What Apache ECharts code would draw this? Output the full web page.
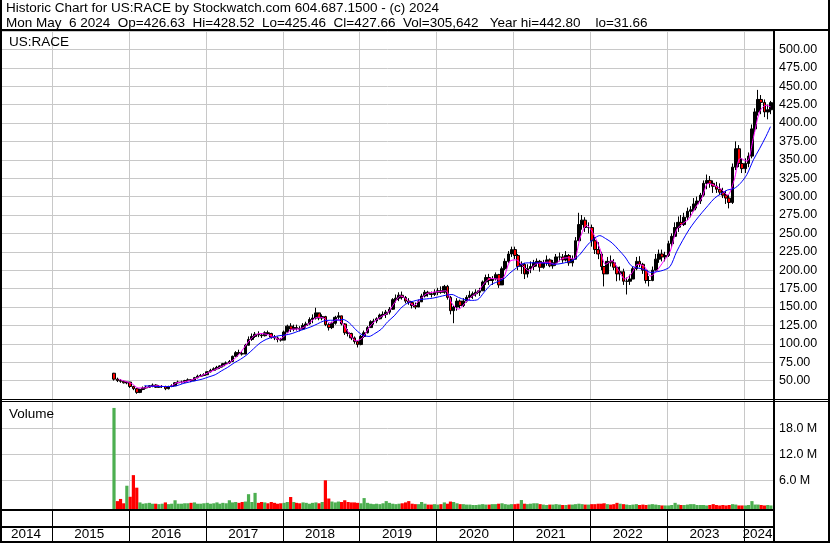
<!DOCTYPE html>
<html>
<head>
<meta charset="utf-8">
<script src="https://cdn.jsdelivr.net/npm/echarts@6/dist/echarts.min.js"></script>
<style>
html,body{margin:0;padding:0;background:#fff;}
#chart{width:830px;height:543px;}
</style>
</head>
<body>
<div id="chart"></div>
<script>
// ---------- texts ----------
const HEADER_LINE_1 = 'Historic Chart for US:RACE by Stockwatch.com 604.687.1500 - (c) 2024';
const HEADER_LINE_2 = 'Mon May  6 2024  Op=426.63  Hi=428.52  Lo=425.46  Cl=427.66  Vol=305,642   Year hi=442.80    lo=31.66';
const SYMBOL_LABEL = 'US:RACE';
const VOLUME_LABEL = 'Volume';

// ---------- axes ----------
const AXIS_START = Date.UTC(2014, 4, 9);
const AXIS_END = Date.UTC(2024, 4, 18);
const YEAR_LABELS = [2014, 2015, 2016, 2017, 2018, 2019, 2020, 2021, 2022, 2023, 2024];
const YEAR_BOUNDARIES = [2015, 2016, 2017, 2018, 2019, 2020, 2021, 2022, 2023, 2024];
const PRICE_MIN = 25, PRICE_MAX = 525, PRICE_STEP = 25;
const PRICE_LABEL_MIN = 50, PRICE_LABEL_MAX = 500;
const VOLUME_TICKS = [6, 12, 18];          // millions
const VOLUME_MIN = -0.62, VOLUME_MAX = 24.07;

// ---------- half-month price bars (first = Oct 2015 2nd half, last = May 2024 1st half) ----------
const IPO_OPEN = 60;
const PRICE_LOW = [
  50, 48, 47, 46, 45,
  40, 37, 32, 33, 37, 39, 40, 41, 40, 40, 40, 37, 38, 41, 44, 46, 46, 47, 49, 48, 50, 53, 55, 56,
  58, 61, 63, 65, 66, 68, 71, 73, 76, 82, 85, 84, 86, 98, 104, 108, 109, 108, 110, 112, 107, 105, 102, 103,
  105, 115, 116, 117, 118, 117, 119, 122, 126, 128, 133, 132, 132, 124, 118, 120, 126, 133, 125, 112, 110, 105, 100, 95,
  98, 108, 114, 122, 126, 128, 133, 136, 135, 140, 146, 156, 158, 160, 155, 153, 148, 147, 150, 158, 163, 164, 163, 165,
  166, 168, 168, 160, 140, 128, 145, 148, 150, 156, 160, 161, 164, 165, 172, 180, 180, 180, 186, 176, 184, 200, 210, 218,
  215, 200, 195, 188, 190, 196, 200, 205, 198, 202, 206, 204, 202, 206, 212, 210, 212, 206, 205, 215, 240, 255, 252, 250,
  232, 222, 215, 200, 178, 195, 205, 200, 185, 186, 180, 167, 180, 188, 200, 204, 195, 182, 178, 185, 200, 210, 212, 212,
  218, 232, 245, 252, 258, 260, 268, 272, 280, 284, 290, 300, 310, 312, 305, 305, 302, 298, 290, 284, 290, 336, 340, 332,
  332, 340, 352, 388, 410, 412, 408, 405, 412
];
const PRICE_HIGH = [
  60.5, 54, 52, 50, 49,
  48, 43, 40, 39, 42, 43, 44, 46, 45, 44, 44, 43, 43, 45, 48, 50, 50, 51, 53, 52, 55, 58, 59, 60,
  63, 66, 68, 70, 71, 74, 76, 78, 84, 90, 92, 90, 100, 110, 114, 116, 117, 114, 117, 118, 115, 112, 110, 108,
  118, 126, 128, 126, 126, 124, 128, 130, 136, 140, 149, 140, 140, 138, 128, 130, 138, 143, 138, 128, 120, 115, 110, 104,
  112, 118, 124, 132, 134, 136, 141, 144, 146, 150, 162, 167, 170, 171, 165, 162, 158, 156, 160, 168, 173, 172, 171, 174,
  176, 178, 180, 180, 165, 152, 162, 160, 162, 166, 172, 171, 174, 176, 186, 194, 195, 192, 197, 195, 205, 216, 226, 232,
  232, 222, 212, 210, 208, 212, 214, 216, 214, 214, 220, 216, 214, 222, 224, 222, 226, 222, 220, 245, 278, 275, 272, 265,
  262, 245, 238, 225, 205, 218, 220, 215, 206, 205, 202, 190, 194, 205, 218, 219, 210, 200, 192, 205, 222, 228, 228, 225,
  240, 250, 265, 273, 275, 278, 285, 287, 298, 300, 305, 322, 330, 328, 322, 320, 318, 312, 308, 302, 345, 375, 370, 352,
  352, 360, 398, 420, 445, 438, 432, 425, 430
];
const PRICE_CLOSE = [
  52, 50, 49, 47, 48,
  42, 39, 34, 38, 40, 41, 43, 44, 41, 42, 42, 39, 42, 43, 47, 48, 48, 50, 51, 50, 54, 56, 57, 58,
  62, 64, 66, 68, 70, 73, 74, 76, 83, 88, 87, 86, 98, 106, 110, 113, 112, 111, 115, 114, 109, 108, 106, 105,
  116, 124, 120, 122, 121, 120, 125, 127, 133, 135, 142, 135, 137, 126, 122, 128, 136, 138, 127, 115, 114, 108, 103, 99,
  110, 115, 122, 130, 131, 134, 139, 140, 143, 147, 160, 162, 166, 163, 158, 156, 152, 150, 157, 165, 170, 168, 167, 170,
  172, 170, 178, 163, 145, 150, 158, 152, 158, 163, 166, 168, 170, 172, 184, 190, 186, 188, 194, 180, 202, 212, 222, 228,
  220, 205, 208, 195, 202, 205, 210, 212, 204, 210, 214, 206, 210, 218, 218, 214, 220, 210, 215, 240, 262, 268, 258, 258,
  240, 228, 222, 205, 195, 212, 210, 204, 195, 198, 185, 185, 188, 202, 212, 208, 200, 186, 186, 200, 215, 222, 218, 220,
  236, 246, 258, 265, 262, 272, 280, 282, 290, 294, 302, 318, 322, 318, 314, 310, 306, 302, 298, 292, 340, 365, 345, 338,
  345, 355, 392, 415, 432, 428, 415, 418, 427.66
];
// peak daily volume in each half-month, millions
const VOLUME_PEAK = [
  22.7, 1.2, 1.7, 0.7, 4.75,
  2.2, 7.2, 4.3, 0.9, 0.6, 0.7, 0.8, 0.6, 0.6, 0.5, 0.6, 0.9, 0.5, 0.6, 1.4, 0.6, 0.6, 0.7, 0.7, 0.8, 0.9, 0.6, 0.6, 0.7,
  0.8, 0.6, 0.7, 0.9, 0.6, 0.8, 0.7, 1.4, 0.9, 1.0, 0.8, 1.0, 1.1, 2.8, 1.0, 3.1, 0.8, 1.0, 0.9, 0.7, 1.0, 0.8, 0.6, 0.7,
  0.8, 1.0, 2.15, 1.0, 0.8, 0.7, 0.9, 0.8, 0.6, 0.8, 0.9, 0.7, 1.0, 6.0, 1.8, 1.1, 0.9, 1.1, 1.0, 1.4, 1.0, 0.9, 0.9, 0.8,
  0.7, 1.9, 0.8, 0.6, 0.5, 0.6, 0.5, 0.7, 1.2, 0.8, 0.6, 0.5, 0.6, 0.7, 0.9, 1.2, 0.6, 0.5, 0.5, 1.0, 0.6, 0.4, 0.4, 0.5,
  0.4, 0.5, 0.9, 0.6, 1.1, 1.0, 0.7, 0.5, 0.5, 0.4, 0.4, 0.3, 0.3, 0.4, 0.5, 0.4, 0.4, 0.5, 0.5, 0.6, 0.7, 0.5, 0.4, 0.5,
  0.5, 0.6, 1.45, 0.6, 0.5, 0.6, 0.7, 0.7, 0.5, 0.4, 0.3, 0.4, 0.4, 0.5, 0.4, 0.3, 0.3, 0.4, 0.4, 0.5, 0.6, 0.5, 0.4, 0.4,
  0.5, 0.5, 0.6, 0.6, 0.7, 0.5, 0.4, 0.5, 0.8, 0.6, 0.5, 0.4, 0.3, 0.4, 0.5, 0.3, 0.4, 0.3, 0.4, 0.5, 0.4, 0.3, 0.2, 0.2,
  0.2, 0.3, 0.8, 0.4, 0.3, 0.3, 0.4, 0.5, 0.5, 0.3, 0.3, 0.3, 0.2, 0.3, 0.5, 0.3, 0.2, 0.3, 0.2, 0.3, 0.5, 0.4, 0.2, 0.2,
  0.2, 0.3, 1.2, 0.4, 0.4, 0.3, 0.2, 0.3, 0.2
];

// ---------- moving averages read monthly (mid-month) ----------
// short MA (magenta) from Nov 2015
const SHORT_MA = [
  52, 49,
  46, 40, 40, 42, 43, 42, 42, 47, 48, 50, 53, 57,
  61, 65, 69, 73, 79, 88, 100, 110, 114, 113, 110, 106,
  112, 120, 120, 123, 130, 136, 135, 128, 133, 127, 113, 104,
  108, 122, 131, 137, 142, 155, 165, 160, 152, 160, 168, 170,
  171, 172, 155, 147, 155, 164, 170, 182, 189, 188, 190, 212,
  214, 206, 199, 208, 210, 211, 208, 215, 217, 215, 245, 261,
  250, 230, 208, 213, 200, 188, 195, 208, 205, 192, 200, 212,
  225, 255, 263, 270, 285, 298, 318, 315, 310, 302, 322, 352,
  348, 380, 415, 424, 422
];
// long MA (blue) from Mar 2016
const LONG_MA = [
  43, 42.5, 42, 42, 42, 43, 46, 48, 50, 52,
  55, 58, 63, 68, 74, 79, 85, 93, 101, 106, 109, 111,
  112, 114, 117, 120, 123, 127, 131, 132, 132, 133, 128, 119,
  112, 110, 114, 120, 130, 138, 148, 155, 158, 160, 161, 162,
  164, 166, 167, 163, 160, 159, 160, 170, 180, 184, 188, 196,
  203, 209, 210, 210, 210, 209, 208, 209, 211, 214, 222, 233,
  242, 247, 243, 237, 228, 218, 206, 203, 201, 197, 198, 200,
  205, 225, 240, 255, 267, 278, 288, 298, 304, 309, 311, 318,
  330, 350, 365, 382, 395
];

// ---------- colours ----------
const C_UP_VOL = '#4caf50', C_DOWN = '#ff0000', C_BAR = '#000000';
const C_SHORT = '#ff00ff', C_LONG = '#0000ff', C_GRID = '#c8c8c8';
const FONT = "'Liberation Sans', Arial, sans-serif";
const HEADER_FONT = '13.5px ' + FONT;

// ---------- build series data ----------
const periodTime = i => { const k = i + 1; return Date.UTC(2015, 9 + Math.floor(k / 2), k % 2 ? 23 : 8); };
const monthTime = (y, m, n) => Date.UTC(y, m + n, 15);
const LAST_DAY = Date.UTC(2024, 4, 6);
const candles = PRICE_CLOSE.map((c, i) => [periodTime(i), i ? PRICE_CLOSE[i - 1] : IPO_OPEN, c, PRICE_LOW[i], PRICE_HIGH[i]]);
const volumes = VOLUME_PEAK.map((v, i) => [periodTime(i), v, (i === 0 || PRICE_CLOSE[i] >= PRICE_CLOSE[i - 1]) ? 1 : 0]);
const shortMa = SHORT_MA.map((v, i) => [i === SHORT_MA.length - 1 ? LAST_DAY : monthTime(2015, 10, i), v]);
const longMa = LONG_MA.map((v, i) => [i === LONG_MA.length - 1 ? LAST_DAY : monthTime(2016, 2, i), v]);
const yearLines = YEAR_BOUNDARIES.map(y => [Date.UTC(y, 0, 1), 0]);
const yearCells = YEAR_LABELS.map(y => [Date.UTC(y, 0, 1), 0, Date.UTC(y + 1, 0, 1), y]);

function vLine(params, api) {
  const cs = params.coordSys;
  const x = Math.round(api.coord([api.value(0), api.value(1)])[0]) + 0.5;
  return { type: 'line', shape: { x1: x, y1: cs.y, x2: x, y2: cs.y + cs.height }, style: { stroke: C_GRID, lineWidth: 1 } };
}
function hLine(params, api) {
  const cs = params.coordSys;
  const y = Math.round(api.coord([api.value(0), api.value(1)])[1]) + 0.5;
  return { type: 'line', shape: { x1: cs.x, y1: y, x2: cs.x + cs.width, y2: y }, style: { stroke: C_GRID, lineWidth: 1 } };
}
function volBar(params, api) {
  const cs = params.coordSys;
  const p = api.coord([api.value(0), api.value(1)]);
  const bottom = cs.y + cs.height;
  return { type: 'rect', shape: { x: p[0] - 1.6, y: p[1], width: 3.2, height: bottom - p[1] },
    style: { fill: api.value(2) ? C_UP_VOL : C_DOWN } };
}
function yearCell(params, api) {
  const cs = params.coordSys;
  const xs = api.coord([api.value(0), 0])[0];
  const xe = api.coord([api.value(2), 0])[0];
  const x0 = Math.max(cs.x, xs), x1 = Math.min(cs.x + cs.width, xe);
  const children = [];
  if (xs > cs.x + 1) {
    const lx = Math.round(xs) + 0.5;
    children.push({ type: 'line', shape: { x1: lx, y1: cs.y, x2: lx, y2: cs.y + cs.height }, style: { stroke: '#000', lineWidth: 1 } });
  }
  children.push({ type: 'text', style: { text: String(api.value(3)), x: (x0 + x1) / 2 - 1, y: 534, align: 'center', verticalAlign: 'middle',
    font: '13.5px ' + FONT, fill: '#000' } });
  return { type: 'group', children };
}

const xBase = { type: 'time', min: AXIS_START, max: AXIS_END, show: false };
const option = {
  animation: false,
  backgroundColor: '#fff',
  grid: [
    { left: 2, top: 31, width: 771, height: 368 },
    { left: 2, top: 402, width: 771, height: 107 },
    { left: 2, top: 511, width: 771, height: 30 }
  ],
  xAxis: [Object.assign({ gridIndex: 0 }, xBase), Object.assign({ gridIndex: 1 }, xBase), Object.assign({ gridIndex: 2 }, xBase)],
  yAxis: [
    { gridIndex: 0, type: 'value', position: 'right', min: PRICE_MIN, max: PRICE_MAX, interval: PRICE_STEP,
      axisLine: { show: false }, axisTick: { show: false },
      axisLabel: { margin: 6, color: '#000', fontFamily: FONT, fontSize: 12.5,
        formatter: v => (v < PRICE_LABEL_MIN || v > PRICE_LABEL_MAX) ? '' : v.toFixed(2) },
      splitLine: { show: true, lineStyle: { color: C_GRID, width: 1 } } },
    { gridIndex: 1, type: 'value', position: 'right', min: VOLUME_MIN, max: VOLUME_MAX,
      axisLine: { show: false }, axisTick: { show: false, customValues: VOLUME_TICKS }, splitLine: { show: false },
      axisLabel: { margin: 6, color: '#000', fontFamily: FONT, fontSize: 12.5, customValues: VOLUME_TICKS,
        formatter: v => v.toFixed(1) + ' M' } },
    { gridIndex: 2, type: 'value', min: 0, max: 1, show: false }
  ],
  series: [
    { type: 'custom', name: 'priceYearLines', xAxisIndex: 0, yAxisIndex: 0, z: 1, silent: true,
      renderItem: vLine, data: yearLines.map(d => [d[0], PRICE_MIN]) },
    { type: 'custom', name: 'volYearLines', xAxisIndex: 1, yAxisIndex: 1, z: 1, silent: true,
      renderItem: vLine, data: yearLines },
    { type: 'custom', name: 'volGrid', xAxisIndex: 1, yAxisIndex: 1, z: 1, silent: true,
      renderItem: hLine, data: VOLUME_TICKS.map(v => [AXIS_START, v]) },
    { type: 'candlestick', name: 'US:RACE', xAxisIndex: 0, yAxisIndex: 0, z: 3, barWidth: 3.2,
      encode: { x: 0, y: [1, 2, 3, 4] },
      itemStyle: { color: C_BAR, color0: C_DOWN, borderColor: C_BAR, borderColor0: C_BAR, borderWidth: 1 },
      data: candles },
    { type: 'line', name: 'shortMA', xAxisIndex: 0, yAxisIndex: 0, z: 4, showSymbol: false, smooth: 0.3,
      lineStyle: { color: C_SHORT, width: 1 }, data: shortMa },
    { type: 'line', name: 'longMA', xAxisIndex: 0, yAxisIndex: 0, z: 4, showSymbol: false, smooth: 0.3,
      lineStyle: { color: C_LONG, width: 1 }, data: longMa },
    { type: 'custom', name: 'volume', xAxisIndex: 1, yAxisIndex: 1, z: 3,
      renderItem: volBar, data: volumes },
    { type: 'custom', name: 'years', xAxisIndex: 2, yAxisIndex: 2, z: 3, silent: true,
      renderItem: yearCell, data: yearCells }
  ],
  graphic: [
    { type: 'text', left: 6, top: 1, style: { text: HEADER_LINE_1, font: HEADER_FONT, fill: '#000' } },
    { type: 'text', left: 6, top: 16, style: { text: HEADER_LINE_2, font: HEADER_FONT, fill: '#000' } },
    { type: 'text', left: 9, top: 35, z: 10, style: { text: SYMBOL_LABEL, font: '13.5px ' + FONT, fill: '#000' } },
    { type: 'text', left: 9, top: 407, z: 10, style: { text: VOLUME_LABEL, font: '13.5px ' + FONT, fill: '#000' } },
    // frame lines
    { type: 'rect', z: 20, shape: { x: 0, y: 29, width: 830, height: 2 }, style: { fill: '#000' } },
    { type: 'rect', z: 20, shape: { x: 773, y: 29, width: 2, height: 514 }, style: { fill: '#000' } },
    { type: 'rect', z: 20, shape: { x: 0, y: 399, width: 830, height: 1 }, style: { fill: '#000' } },
    { type: 'rect', z: 20, shape: { x: 0, y: 401, width: 830, height: 1 }, style: { fill: '#000' } },
    { type: 'rect', z: 20, shape: { x: 0, y: 509, width: 773, height: 2 }, style: { fill: '#000' } },
    { type: 'rect', z: 20, shape: { x: 0, y: 526, width: 773, height: 2 }, style: { fill: '#000' } },
    { type: 'rect', z: 20, shape: { x: 0, y: 541, width: 830, height: 2 }, style: { fill: '#000' } },
    { type: 'rect', z: 20, shape: { x: 0, y: 0, width: 2, height: 543 }, style: { fill: '#000' } },
    { type: 'rect', z: 20, shape: { x: 828, y: 0, width: 2, height: 543 }, style: { fill: '#000' } }
  ]
};
const chart = echarts.init(document.getElementById('chart'), null, { renderer: 'canvas' });
chart.setOption(option);
</script>
</body>
</html>
